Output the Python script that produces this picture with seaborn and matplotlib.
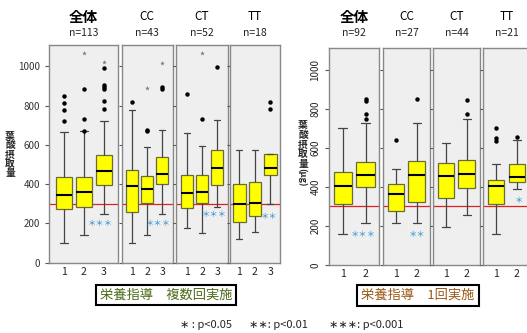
import pandas as pd
import seaborn as sns
import matplotlib.pyplot as plt

# ---- data (box summaries per group) ----
left_titles = ["全体", "CC", "CT", "TT"]
left_n = [113, 43, 52, 18]
left_cats = ["1", "2", "3"]
left_low = [[99, 141, 248], [99, 141, 249], [178, 150, 283], [119, 156, 297]]
left_q1 = [[272, 282, 394], [260, 305, 400], [280, 302, 394], [209, 238, 446]]
left_med = [[346, 358, 467], [389, 375, 450], [353, 360, 482], [297, 305, 482]]
left_q3 = [[438, 435, 548], [472, 441, 536], [448, 448, 573], [399, 409, 553]]
left_high = [[667, 672, 723], [776, 590, 675], [658, 596, 726], [573, 573, 553]]
left_out = [
    [(0, 721), (0, 777), (0, 814), (0, 850), (1, 670), (1, 730), (1, 886),
     (2, 784), (2, 821), (2, 885), (2, 896), (2, 905), (2, 990)],
    [(0, 816), (1, 669), (1, 673), (2, 882), (2, 896)],
    [(0, 857), (1, 733), (2, 996)],
    [(2, 782), (2, 819)],
]
left_ext = [[(1, 1066), (2, 1019)], [(1, 887), (2, 1018)], [(1, 1069)], []]
left_sig = [(1.83, 200, "＊＊＊"), (1.78, 200, "＊＊＊"), (1.81, 248, "＊＊＊"), (1.9, 236, "＊＊")]

right_titles = ["全体", "CC", "CT", "TT"]
right_n = [92, 27, 44, 21]
right_cats = ["1", "2"]
right_low = [[157, 214], [217, 214], [193, 255], [159, 391]]
right_q1 = [[311, 398], [279, 323], [342, 393], [313, 424]]
right_med = [[407, 460], [362, 461], [455, 465], [405, 453]]
right_q3 = [[479, 529], [415, 533], [521, 538], [434, 516]]
right_high = [[701, 727], [494, 730], [627, 750], [516, 641]]
right_out = [
    [(1, 749), (1, 773), (1, 841), (1, 850)],
    [(0, 639), (1, 853)],
    [(1, 773), (1, 846)],
    [(0, 638), (0, 650), (0, 703), (1, 658)],
]
right_sig = [(0.88, 154, "＊＊＊"), (1.0, 154, "＊＊"), None, (1.08, 332, "＊")]

ylabel_chars = ["葉", "酸", "摂", "取", "量"]

sns.set_theme(style="white")
plt.rcParams["font.family"] = ["Noto Sans CJK JP", "DejaVu Sans"]

W, H = 527, 333
fig = plt.figure(figsize=(W / 100, H / 100), dpi=100)


def px_axes(x0, x1, ytop, ybot):
    return fig.add_axes([x0 / W, 1 - ybot / H, (x1 - x0) / W, (ybot - ytop) / H])


def draw_panel(ax, cats, low, q1, med, q3, high, outs, exts, ylim, xlim):
    rows = []
    for i, c in enumerate(cats):
        for v in (low[i], q1[i], med[i], q3[i], high[i]):
            rows.append({"grp": c, "val": v})
    df = pd.DataFrame(rows)
    sns.boxplot(data=df, x="grp", y="val", order=cats, whis=(0, 100),
                showfliers=False, width=0.8, color="#ffff00", linecolor="#555555",
                linewidth=0.9, ax=ax,
                boxprops=dict(facecolor="#ffff00", edgecolor="#6b6b3a"),
                medianprops=dict(color="black", linewidth=1.5),
                whiskerprops=dict(color="#444444"),
                capprops=dict(color="#444444"))
    if outs:
        od = pd.DataFrame({"grp": [cats[i] for i, _ in outs], "val": [v for _, v in outs]})
        sns.stripplot(data=od, x="grp", y="val", order=cats, jitter=False,
                      color="black", size=3.2, ax=ax)
    if exts:
        ed = pd.DataFrame({"grp": [cats[i] for i, _ in exts], "val": [v for _, v in exts]})
        sns.stripplot(data=ed, x="grp", y="val", order=cats, jitter=False,
                      color="#777777", marker="*", size=3.5, ax=ax)
    ax.axhline(300, color="#e02020", lw=0.9, zorder=1)
    ax.set_facecolor("#efefef")
    ax.set_ylim(*ylim)
    ax.set_xlim(*xlim)
    ax.set_xlabel("")
    ax.set_ylabel("")
    ax.set_yticks([0, 200, 400, 600, 800, 1000])
    for s in ax.spines.values():
        s.set_color("#888888")
        s.set_linewidth(1.0)
    ax.tick_params(axis="x", length=0, labelsize=7.5, pad=3, colors="#222222")
    ax.tick_params(axis="y", direction="out", length=3, width=0.8, color="#555555",
                   left=True, labelsize=7, colors="#222222")


# ---- left chart ----
left_x = [(49, 117.7), (122, 172.7), (176.3, 227.7), (230.3, 280)]
left_xlim = [(-0.73, 2.68), (-0.67, 2.71), (-0.73, 2.69), (-0.58, 2.62)]
for k in range(4):
    ax = px_axes(left_x[k][0], left_x[k][1], 45, 262.7)
    draw_panel(ax, left_cats, left_low[k], left_q1[k], left_med[k], left_q3[k],
               left_high[k], left_out[k], left_ext[k], (0, 1108), left_xlim[k])
    if k > 0:
        ax.set_yticklabels([])
        ax.tick_params(axis="y", length=2)
    else:
        ax.tick_params(axis="y", labelcolor="#333333")
    sx, sy, st = left_sig[k]
    ax.text(sx, sy, st, color="#2a8fd0", fontsize=6, ha="center", va="center")
    cx = (left_x[k][0] + left_x[k][1]) / 2
    fig.text(cx / W, 1 - 17 / H, left_titles[k], ha="center", va="center",
             fontsize=10.5 if k == 0 else 8.5, fontweight="bold" if k == 0 else "normal",
             color="black")
    fig.text(cx / W, 1 - 33 / H, f"n={left_n[k]}", ha="center", va="center",
             fontsize=7.5, color="#222222")

for i, ch in enumerate(ylabel_chars):
    fig.text(10 / W, 1 - (136 + 9.3 * i) / H, ch, ha="center", va="center",
             fontsize=7, fontweight="bold")

# ---- right chart ----
right_x = [(329.3, 378.7), (383.3, 429.7), (433.3, 479.7), (483.3, 530)]
right_xlim = [(-0.6, 1.58), (-0.61, 1.63), (-0.61, 1.63), (-0.61, 1.63)]
for k in range(4):
    ax = px_axes(right_x[k][0], right_x[k][1], 48.3, 265)
    draw_panel(ax, right_cats, right_low[k], right_q1[k], right_med[k], right_q3[k],
               right_high[k], right_out[k], [], (0, 1111), right_xlim[k])
    if k > 0:
        ax.set_yticklabels([])
        ax.tick_params(axis="y", length=2)
    else:
        for lab in ax.get_yticklabels():
            lab.set_rotation(90)
            lab.set_va("center")
    if right_sig[k] is not None:
        sx, sy, st = right_sig[k]
        ax.text(sx, sy, st, color="#2a8fd0", fontsize=6, ha="center", va="center")
    cx = (right_x[k][0] + right_x[k][1]) / 2
    if k == 3:
        cx = 507
    fig.text(cx / W, 1 - 17 / H, right_titles[k], ha="center", va="center",
             fontsize=10.5 if k == 0 else 8.5, fontweight="bold" if k == 0 else "normal",
             color="black")
    fig.text(cx / W, 1 - 33 / H, f"n={right_n[k]}", ha="center", va="center",
             fontsize=7.5, color="#222222")

for i, ch in enumerate(ylabel_chars):
    fig.text(303 / W, 1 - (125 + 9.8 * i) / H, ch, ha="center", va="center",
             fontsize=7, fontweight="bold")
fig.text(302 / W, 1 - 177 / H, "(μg)", ha="center", va="center", rotation=270,
         fontsize=6.5, fontweight="bold")

# ---- captions ----
fig.text(166 / W, 1 - 295 / H, "栄養指導　複数回実施", ha="center", va="center",
         fontsize=9.5, color="#4f6b1a",
         bbox=dict(boxstyle="square,pad=0.3", facecolor="white", edgecolor="black", lw=1.5))
fig.text(418 / W, 1 - 295.5 / H, "栄養指導　1回実施", ha="center", va="center",
         fontsize=9.5, color="#9a5a18",
         bbox=dict(boxstyle="square,pad=0.3", facecolor="white", edgecolor="black", lw=1.5))

fig.text(180 / W, 1 - 325 / H, "∗ : p<0.05", ha="left", va="center", fontsize=8)
fig.text(249 / W, 1 - 325 / H, "∗∗: p<0.01", ha="left", va="center", fontsize=8)
fig.text(329 / W, 1 - 325 / H, "∗∗∗: p<0.001", ha="left", va="center", fontsize=8)

fig.savefig("out.png", dpi=100, facecolor="white")
